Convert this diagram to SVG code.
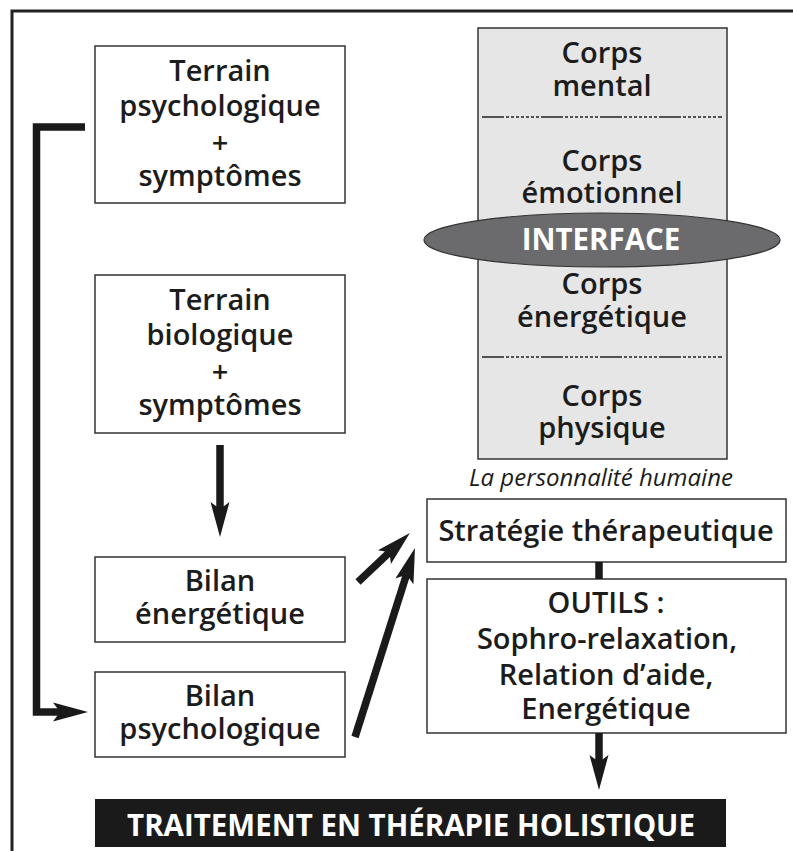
<svg xmlns="http://www.w3.org/2000/svg" width="793" height="851" viewBox="0 0 793 851">
<defs>
<style>
.box{fill:#fff;stroke:#333;stroke-width:1.5}
.t{font-family:"Open Sans","Noto Sans","Liberation Sans",sans-serif;font-weight:600;font-size:29px;fill:#1c1c1c;text-anchor:middle}
.w{fill:#fff;font-weight:700}
.conn{fill:none;stroke:#1a1a1a;stroke-width:7.5}
.dash{stroke:#222;stroke-width:1.4;stroke-dasharray:22 2 3 2 3 2 3 2 3 2 3 2 3 2 3 2}
</style>
<marker id="ah" markerUnits="userSpaceOnUse" markerWidth="40" markerHeight="24" viewBox="-10 -12 40 24" refX="0" refY="0" orient="auto">
<path d="M28,0 L-7,-9.5 L0,0 L-7,9.5 Z" fill="#1a1a1a"/>
</marker>
</defs>
<rect width="793" height="851" fill="#fff"/>
<g id="frame" fill="none" stroke="#222" stroke-width="3">
<path d="M12,851 V11 H793"/>
</g>
<g id="terrain-psy">
<rect class="box" x="95" y="46" width="250" height="157"/>
<text class="t"><tspan x="220" y="81">Terrain</tspan><tspan x="220" y="116">psychologique</tspan><tspan x="220" y="153">+</tspan><tspan x="220" y="186">symptômes</tspan></text>
</g>
<g id="terrain-bio">
<rect class="box" x="95" y="275" width="250" height="158"/>
<text class="t"><tspan x="220" y="310">Terrain</tspan><tspan x="220" y="345">biologique</tspan><tspan x="220" y="382">+</tspan><tspan x="220" y="415">symptômes</tspan></text>
</g>
<g id="bilan-energetique">
<rect class="box" x="95" y="557" width="250" height="85"/>
<text class="t"><tspan x="220" y="591">Bilan</tspan><tspan x="220" y="624">énergétique</tspan></text>
</g>
<g id="bilan-psychologique">
<rect class="box" x="95" y="672" width="250" height="85"/>
<text class="t"><tspan x="220" y="706">Bilan</tspan><tspan x="220" y="739">psychologique</tspan></text>
</g>
<g id="personnalite">
<rect x="478" y="28" width="249" height="431" fill="#e6e6e6" stroke="#333" stroke-width="1.5"/>
<line class="dash" x1="482" y1="117" x2="722" y2="117"/>
<line class="dash" x1="482" y1="357" x2="722" y2="357"/>
<text class="t"><tspan x="602" y="63">Corps</tspan><tspan x="602" y="96">mental</tspan></text>
<text class="t"><tspan x="602" y="171">Corps</tspan><tspan x="602" y="203">émotionnel</tspan></text>
<text class="t"><tspan x="602" y="294">Corps</tspan><tspan x="602" y="327">énergétique</tspan></text>
<text class="t"><tspan x="602" y="406">Corps</tspan><tspan x="602" y="438">physique</tspan></text>
<text class="t" x="601" y="486" style="font-style:italic;font-weight:400;font-size:24px">La personnalité humaine</text>
</g>
<g id="interface">
<ellipse cx="602" cy="240" rx="178" ry="27" fill="#6b6b6e" stroke="#333" stroke-width="1.2"/>
<text class="t w" x="601" y="250" style="font-size:29.5px">INTERFACE</text>
</g>
<g id="strategie">
<rect class="box" x="427" y="499" width="359" height="63"/>
<text class="t" x="606" y="541">Stratégie thérapeutique</text>
</g>
<g id="outils">
<rect class="box" x="427" y="579" width="359" height="154"/>
<text class="t"><tspan x="606" y="613">OUTILS :</tspan><tspan x="607" y="649">Sophro-relaxation,</tspan><tspan x="606" y="685">Relation d’aide,</tspan><tspan x="606" y="719">Energétique</tspan></text>
</g>
<g id="traitement">
<rect x="95" y="799" width="631" height="48" fill="#1a1a1a"/>
<text class="t w" x="411" y="836" style="font-size:29.5px">TRAITEMENT EN THÉRAPIE HOLISTIQUE</text>
</g>
<g id="connectors">
<path class="conn" d="M85,127 H36.5 V712 H60" marker-end="url(#ah)"/>
<path class="conn" d="M220,445 V509" marker-end="url(#ah)"/>
<path class="conn" d="M358,582 L389.5,552.3" marker-end="url(#ah)"/>
<path class="conn" d="M355,737 L406.5,574.7" marker-end="url(#ah)"/>
<path class="conn" d="M599,562 V579"/>
<path class="conn" d="M599,733 V762" marker-end="url(#ah)"/>
</g>
</svg>
